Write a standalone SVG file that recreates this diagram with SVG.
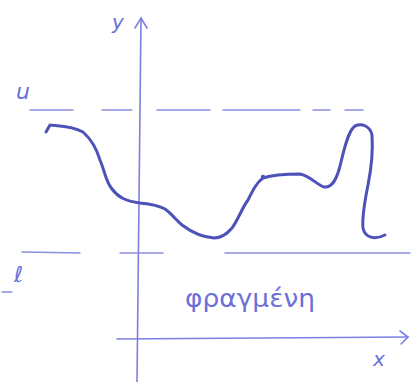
<svg xmlns="http://www.w3.org/2000/svg" width="411" height="382" viewBox="0 0 411 382">
<style>
.ax{stroke:#7b80e0;stroke-width:1.6;fill:none;stroke-linecap:round}
.dash{stroke:#8a8fe0;stroke-width:1.4;fill:none;stroke-linecap:round}
.curve{stroke:#4c52b8;stroke-width:3;fill:none;stroke-linecap:round;stroke-linejoin:round}
.lbl{font-family:"DejaVu Sans",sans-serif;fill:#6a70d8;font-style:italic}
</style>
<rect width="411" height="382" fill="#ffffff"/>
<g id="axes">
<path class="ax" d="M141,18 L137,382"/>
<path class="ax" d="M135,28 L141,18 L147,28"/>
<path class="ax" d="M117,339 L408,337"/>
<path class="ax" d="M400,331 L408,337 L401,344"/>
</g>
<g id="bounds">
<path class="dash" d="M30,110 L73,110 M102,110 L132,110 M157,110 L210,110 M223,110 L300,110 M313,110 L330,110 M345,110 L363,110"/>
<path class="dash" d="M22,252 L80,253 M120,253 L163,253 M225,253 L410,253"/>
<path class="dash" d="M2,292 L12,292"/>
</g>
<g id="curve">
<path class="curve" d="M46,132 L50,125 C60,126 73,126 83,132 C92,140 97,150 100,160 C105,172 106,182 112,189 C118,197 125,201 140,203 C150,204 158,205 165,209 C172,214 176,220 182,225 C190,231 200,237 214,238 C222,238 227,234 232,228 C238,220 242,208 248,200 C253,190 257,182 263,178 C272,175 285,174 300,174 C310,176 316,184 324,187 C332,188 337,180 341,162 C345,145 349,130 355,126 C362,123 370,126 372,135 C373,150 371,170 368,185 C364,205 362,218 363,228 C365,238 375,240 385,235"/>
<circle cx="263" cy="177" r="2.2" fill="#4c52b8"/>
</g>
<g id="labels">
<text class="lbl" x="112" y="29" font-size="20">y</text>
<text class="lbl" x="16" y="99" font-size="22">u</text>
<text class="lbl" x="14" y="282" font-size="22">ℓ</text>
<text class="lbl" x="185" y="307" font-size="25" textLength="130" lengthAdjust="spacingAndGlyphs" style="font-style:normal">φραγμένη</text>
<text class="lbl" x="373" y="366" font-size="20">x</text>
</g>
</svg>
